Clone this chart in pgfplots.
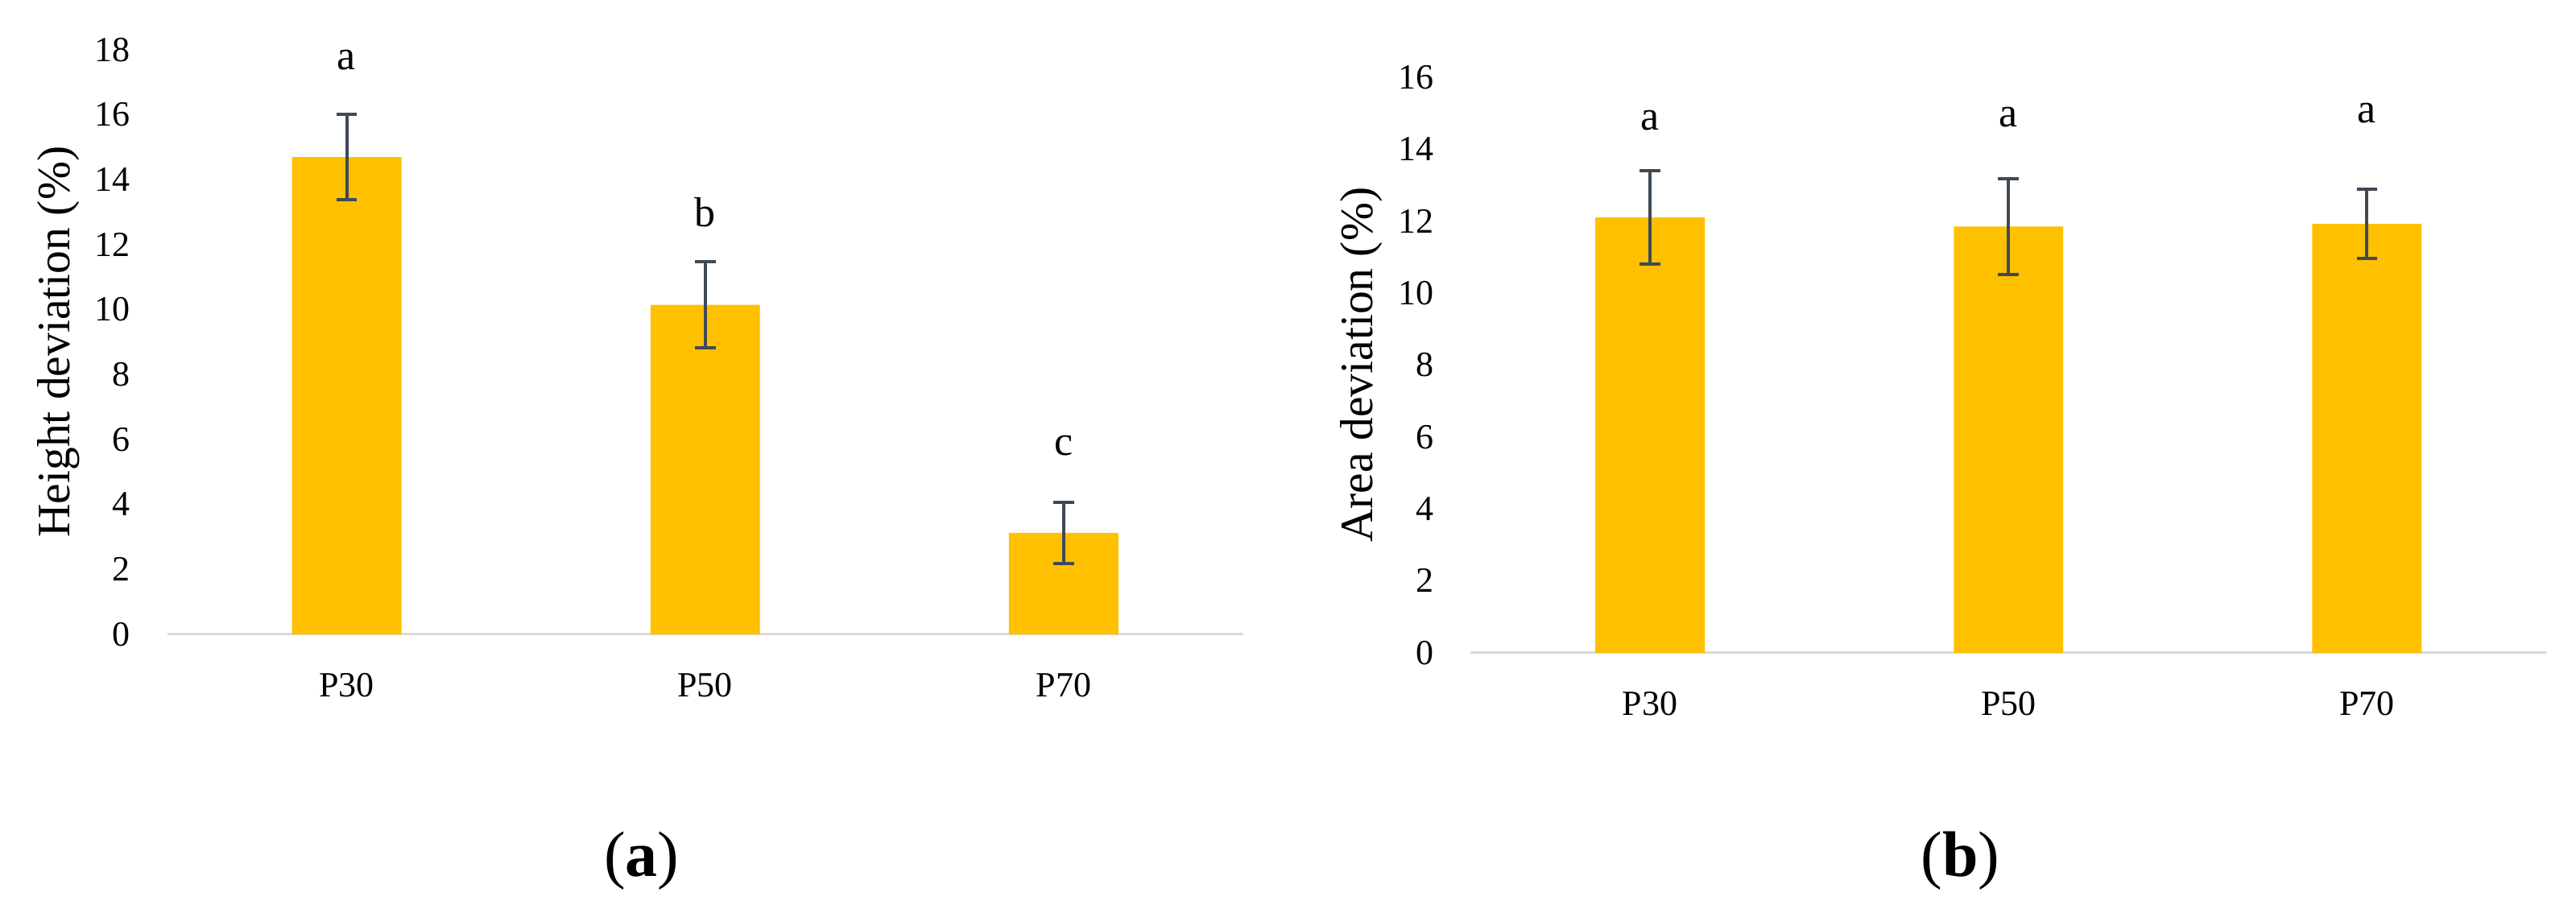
\documentclass[border=0pt]{standalone}
\usepackage{fontspec}
\setmainfont{Liberation Serif}
\usepackage{pgfplots}
\pgfplotsset{compat=1.18}
\definecolor{bargold}{HTML}{FFC000}
\definecolor{errc}{HTML}{404A55}
\definecolor{axgray}{HTML}{D9D9D9}
\pgfplotstableread{
x y e
0 14.70 1.31
1 10.15 1.33
2 3.12 0.94
}\heightdata
\pgfplotstableread{
x y e
0 12.10 1.30
1 11.85 1.34
2 11.92 0.96
}\areadata
\pgfplotsset{mybar/.style={
  scale only axis, width=334pt, xmin=-0.5, xmax=2.5, ymin=0,
  axis lines*=left, y axis line style={draw=none},
  x axis line style={axgray, line width=0.8pt},
  major tick length=0pt, tick style={draw=none},
  xtick={0,1,2}, xticklabels={P30,P50,P70},
  ytick distance=2,
  ticklabel style={font=\fontsize{11}{13}\selectfont},
  /pgf/number format/assume math mode=true,
  yticklabel style={xshift=-8pt},
  xticklabel style={yshift=-8.7pt},
  ylabel style={font=\fontsize{14.4}{16}\selectfont, at={(axis description cs:-0.1015,0.5)}, anchor=center},
  clip=false,
  ybar, bar width=34pt,
}}
\begin{document}
\begin{tikzpicture}
\useasboundingbox (0,0) rectangle (800pt,284.75pt);
\begin{axis}[mybar, at={(52pt,87.75pt)}, anchor=south west, height=181.5pt, ymax=18,
  ylabel={Height deviation (\%)}]
\addplot[fill=bargold, draw=none,
  error bars/.cd, y dir=both, y explicit,
  error bar style={errc, line width=1pt},
  error mark options={rotate=90, mark size=3.2pt, errc, line width=1pt}]
  table[x=x, y=y, y error=e] {\heightdata};
\node[font=\fontsize{13}{15}\selectfont] at (axis cs:0,17.7) {a};
\node[font=\fontsize{13}{15}\selectfont] at (axis cs:1,13.0) {b};
\node[font=\fontsize{13}{15}\selectfont] at (axis cs:2,5.8) {c};
\end{axis}
\begin{axis}[mybar, at={(456.75pt,82pt)}, anchor=south west, height=178.75pt, ymax=16,
  ylabel={Area deviation (\%)}]
\addplot[fill=bargold, draw=none,
  error bars/.cd, y dir=both, y explicit,
  error bar style={errc, line width=1pt},
  error mark options={rotate=90, mark size=3.2pt, errc, line width=1pt}]
  table[x=x, y=y, y error=e] {\areadata};
\node[font=\fontsize{13}{15}\selectfont] at (axis cs:0,14.8) {a};
\node[font=\fontsize{13}{15}\selectfont] at (axis cs:1,14.9) {a};
\node[font=\fontsize{13}{15}\selectfont] at (axis cs:2,15.0) {a};
\end{axis}
\node[font=\fontsize{20}{24}\selectfont] at (199.25pt,17.25pt) {(\textbf{a})};
\node[font=\fontsize{20}{24}\selectfont] at (608.75pt,17.25pt) {(\textbf{b})};
\end{tikzpicture}
\end{document}
